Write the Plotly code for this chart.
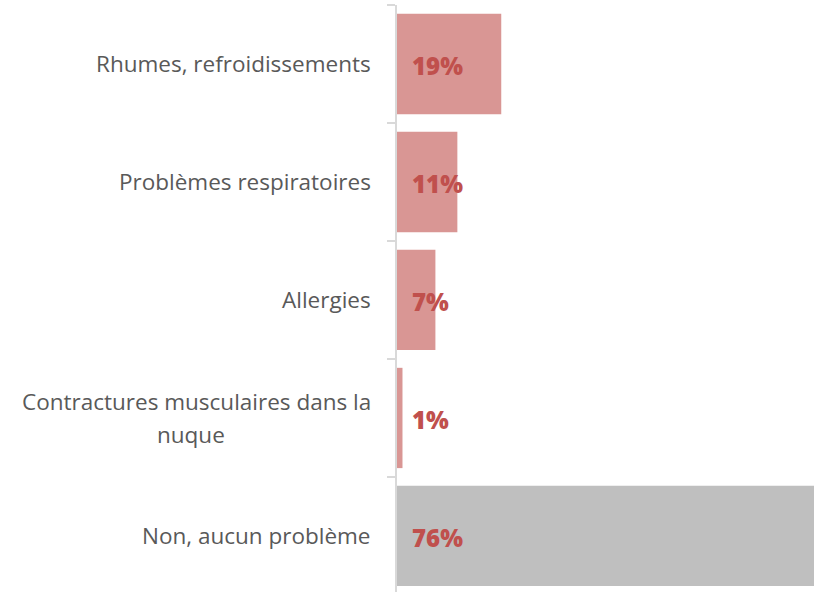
import plotly.graph_objects as go

# Survey answers (share of respondents, %)
categories = [
    "Rhumes, refroidissements",
    "Problèmes respiratoires",
    "Allergies",
    "Contractures musculaires dans la\nnuque",
    "Non, aucun problème",
]
values = [19, 11, 7, 1, 76]
value_labels = ["19%", "11%", "7%", "1%", "76%"]
bar_colors = ["#d99694", "#d99694", "#d99694", "#d99694", "#bfbfbf"]

FONT = "Open Sans"
LABEL_COLOR = "#595959"
VALUE_COLOR = "#c0504d"
AXIS_COLOR = "#d9d9d9"

fig = go.Figure(
    go.Bar(
        x=values,
        y=list(range(len(categories))),
        orientation="h",
        width=0.85,
        marker=dict(color=bar_colors, line=dict(width=0)),
        hoverinfo="skip",
    )
)

annotations = []
# Value labels just inside the start of each bar
for i, lab in enumerate(value_labels):
    annotations.append(dict(
        x=0, y=i, xref="x", yref="y", text=lab, showarrow=False,
        xanchor="left", yanchor="middle", xshift=13, yshift=-2,
        font=dict(family=FONT, size=24, color=VALUE_COLOR, weight=800),
    ))

# Category labels, right-aligned left of the axis; wrapped lines centred
LINE_GAP = 33
for i, cat in enumerate(categories):
    lines = cat.split("\n")
    n = len(lines)
    for j, line in enumerate(lines):
        shift = (n - 1) / 2 * LINE_GAP - j * LINE_GAP
        if j == 0:
            annotations.append(dict(
                x=0, y=i, xref="paper", yref="y", text=line, showarrow=False,
                xanchor="right", yanchor="middle", xshift=-24, yshift=shift,
                font=dict(family=FONT, size=22.5, color=LABEL_COLOR),
            ))
        else:
            annotations.append(dict(
                x=0, y=i, xref="paper", yref="y", text=line, showarrow=False,
                xanchor="center", yanchor="middle", xshift=-206, yshift=shift,
                font=dict(family=FONT, size=22.5, color=LABEL_COLOR),
            ))

fig.update_layout(
    width=814, height=592,
    margin=dict(l=397, r=0, t=5, b=0),
    paper_bgcolor="white", plot_bgcolor="white",
    showlegend=False,
    annotations=annotations,
    xaxis=dict(range=[0, 76], visible=False, fixedrange=True),
    yaxis=dict(
        type="category",
        range=[4.475, -0.5],
        showticklabels=False,
        showline=True, linecolor=AXIS_COLOR, linewidth=2,
        ticks="outside", tickson="boundaries", ticklen=8, tickwidth=2,
        tickcolor=AXIS_COLOR, showgrid=False, zeroline=False,
        fixedrange=True,
    ),
)

fig.write_html("out.html")
